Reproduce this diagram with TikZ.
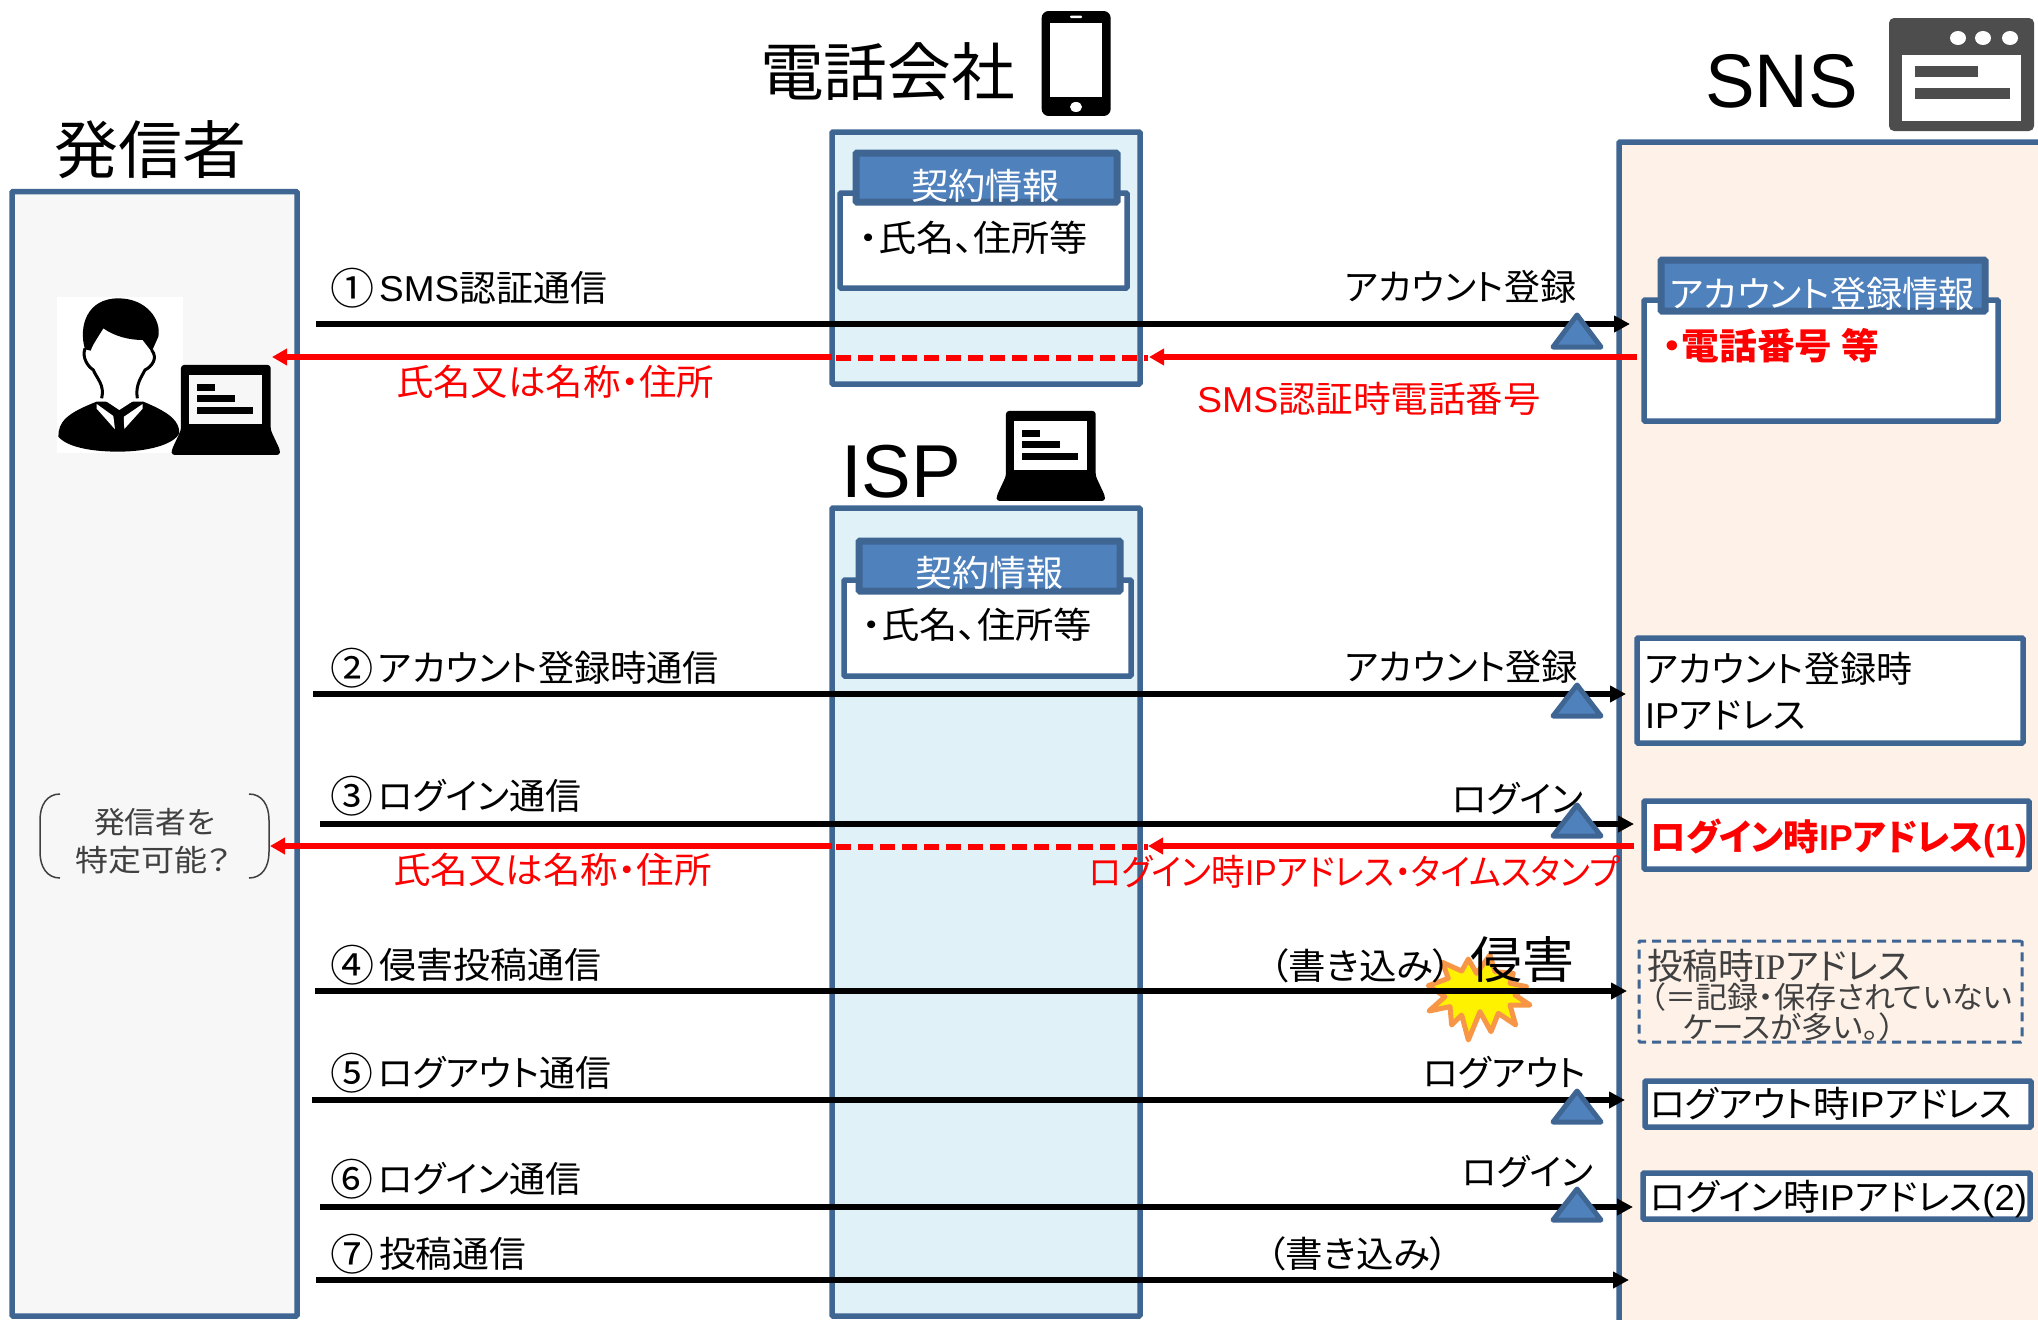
\documentclass[tikz,border=0pt]{standalone}
\usepackage{fontspec}
\usepackage{graphicx}
\usetikzlibrary{arrows.meta}
\setmainfont[RawFeature=+palt]{Noto Sans CJK JP}
\newfontfamily\ls{Liberation Sans}
\newfontfamily\lsb{Liberation Serif}
\definecolor{lanestroke}{HTML}{3F6593}
\definecolor{hdrfill}{HTML}{4F81BD}
\definecolor{lanegray}{HTML}{F7F7F7}
\definecolor{laneblue}{HTML}{E1F1F8}
\definecolor{lanepeach}{HTML}{FDF1E8}
\definecolor{burstline}{HTML}{F79646}
\definecolor{softtext}{HTML}{404040}
\definecolor{iconfill}{HTML}{4D4D4D}
\tikzset{
  panel/.style={rectangle,draw=lanestroke,line width=5.5pt,inner sep=0pt,outer sep=0pt,rounded corners=1pt},
  hdr/.style={panel,fill=hdrfill,line width=7pt},
  whitebox/.style={panel,fill=white},
  dashbox/.style={panel,line width=3pt,dash pattern=on 9pt off 6pt},
  msg/.style={line width=5.5pt,draw=black,-{Triangle[length=16pt,width=16pt]}},
  reply/.style={line width=5.5pt,draw=red,-{Triangle[length=15pt,width=16pt]}},
  replydash/.style={line width=5.5pt,draw=red,dash pattern=on 15pt off 7pt},
  mark tri/.style={fill=hdrfill,draw=lanestroke,line width=5pt,line join=round},
  txt/.style={inner sep=0pt,outer sep=0pt,anchor=base west}
}
\newsavebox\tb
\newcommand{\bx}[6]{%
  \pgfmathsetmacro\bcx{(#3+#5)/2}\pgfmathsetmacro\bcy{(#4+#6)/2}%
  \pgfmathsetmacro\bw{#5-#3}\pgfmathsetmacro\bh{#6-#4}%
  \node[#1,minimum width=\bw pt,minimum height=\bh pt] (#2) at (\bcx,\bcy) {};}
\newcommand{\lbl}[7]{%
  \pgfmathsetmacro\by{#4+0.41*#5}%
  \node[txt] (#1) at (#2,\by) {%
    \sbox\tb{\fontsize{#5}{#5}\selectfont\color{#6}#7}%
    \pgfmathsetmacro\xs{(#3-#2)/\the\wd\tb}%
    \scalebox{\xs}[1]{\usebox\tb}};}
\newcommand{\circd}[1]{\raisebox{-2.5pt}{\fontsize{43}{43}\selectfont #1}\hspace{5pt}}
\newcommand{\arr}[5]{%
  \coordinate (#2-a) at (#3,#5); \coordinate (#2-b) at (#4,#5);
  \draw[#1] (#2-a) -- (#2-b);}
\newcommand{\tri}[2]{\draw[mark tri] (1577,#1) -- (1601,#2) -- (1553,#2) -- cycle;}
\begin{document}
\begin{tikzpicture}[x=1pt,y=-1pt]
\useasboundingbox (0,0) rectangle (2038,1320);
\clip (0,0) rectangle (2038,1320);
% lanes
\bx{panel,fill=lanegray}{senderlane}{12}{191.5}{297}{1316}
\bx{panel,fill=laneblue}{phonelane}{832}{132}{1140}{384}
\bx{panel,fill=laneblue}{isplane}{832}{508}{1140}{1316}
\bx{panel,fill=lanepeach}{snslane}{1619}{142}{2060}{1360}
% titles
\lbl{t1}{54}{246}{148}{63}{black}{発信者}
\lbl{t2}{760}{1015}{70}{63}{black}{電話会社}
\lbl{t3}{841}{961}{467}{75}{black}{\ls ISP}
\lbl{t4}{1705}{1858}{76}{76}{black}{\ls SNS}
% phone icon
\begin{scope}[shift={(990,0)},x=0.3333pt,y=-0.3333pt]
  \fill[black,rounded corners=7pt] (155,33) rectangle (362,348);
  \fill[white] (180,70) rectangle (336,290);
  \fill[white,rounded corners=1pt] (240,47) rectangle (276,54);
  \fill[white] (258,321) ellipse [x radius=18,y radius=15];
\end{scope}
% browser icon
\fill[iconfill,rounded corners=5pt] (1889,18) rectangle (2034,131);
\fill[white] (1902,55) rectangle (2021,121);
\fill[iconfill] (1915,66) rectangle (1978,77);
\fill[iconfill] (1915,88) rectangle (2010,99);
\foreach \dx in {1958,1983,2010} \fill[white] (\dx,38) ellipse [x radius=8,y radius=7];
% person
\begin{scope}[shift={(50,290)},x=0.3333pt,y=-0.3333pt]
  \fill[white] (20,20) rectangle (398,488);
  \fill[black] (25,440) .. controls (25,395) and (50,370) .. (140,335) -- (280,335) .. controls (365,370) and (388,395) .. (388,430) .. controls (370,465) and (290,485) .. (205,485) .. controls (120,485) and (50,470) .. (25,440) -- cycle;
  \fill[white] (140,342) -- (190,378) -- (195,418) -- (140,356) -- cycle;
  \fill[white] (278,342) -- (222,380) -- (222,418) -- (278,356) -- cycle;
  \fill[white] (105,175) .. controls (95,205) and (115,230) .. (130,240) .. controls (140,265) and (165,285) .. (155,325) -- (208,360) -- (262,325) .. controls (255,285) and (275,260) .. (285,240) .. controls (305,230) and (325,205) .. (305,180) -- cycle;
  \draw[black,line width=3pt] (105,175) .. controls (95,205) and (115,230) .. (130,240) .. controls (140,265) and (165,285) .. (155,325);
  \draw[black,line width=3pt] (262,325) .. controls (255,285) and (275,260) .. (285,240) .. controls (305,230) and (325,205) .. (305,180);
  \fill[black] (105,178) .. controls (85,110) and (110,25) .. (205,25) .. controls (290,25) and (335,90) .. (325,140) -- (305,185) -- (278,150) .. controls (240,150) and (195,140) .. (160,115) .. controls (145,140) and (130,160) .. (122,182) -- cycle;
  \fill[black] (196,362) -- (222,362) -- (218,385) -- (224,420) -- (208,432) -- (194,420) -- (200,385) -- cycle;
\end{scope}
% laptops
\begin{scope}[shift={(50,290)},x=0.3333pt,y=-0.3333pt]
  \fill[black,rounded corners=3pt] (393,225) -- (662,225) -- (662,420) -- (690,480) -- (690,495) -- (365,495) -- (365,480) -- (393,420) -- cycle;
  \fill[lanegray] (418,255) rectangle (637,403);
  \fill[black] (442,282) rectangle (496,302);
  \fill[black] (442,316) rectangle (556,336);
  \fill[black] (442,351) rectangle (610,371);
\end{scope}
\begin{scope}[shift={(875,336)},x=0.3333pt,y=-0.3333pt]
  \fill[black,rounded corners=3pt] (393,225) -- (662,225) -- (662,420) -- (690,480) -- (690,495) -- (365,495) -- (365,480) -- (393,420) -- cycle;
  \fill[white] (418,255) rectangle (637,403);
  \fill[black] (442,282) rectangle (496,302);
  \fill[black] (442,316) rectangle (556,336);
  \fill[black] (442,351) rectangle (610,371);
\end{scope}
% contract boxes
\bx{whitebox}{c1box}{840}{193}{1127}{288}
\bx{hdr}{c1hdr}{856}{153}{1117}{202}
\lbl{c1h}{911}{1060}{185}{36}{white}{契約情報}
\lbl{c1t}{859}{1088}{237}{36}{black}{・氏名、住所等}
\bx{whitebox}{c2box}{844}{580}{1131}{676}
\bx{hdr}{c2hdr}{859}{541}{1120}{591}
\lbl{c2h}{915}{1063}{572}{36}{white}{契約情報}
\lbl{c2t}{862}{1092}{624}{36}{black}{・氏名、住所等}
% SNS boxes
\bx{whitebox}{s1box}{1644}{300}{1998}{421}
\bx{hdr}{s1hdr}{1661}{260}{1985}{311}
\lbl{s1h}{1670}{1975}{293}{36}{white}{アカウント登録情報}
\lbl{s1t}{1663}{1879}{345}{36}{red}{\bfseries ・電話番号 等}
\bx{whitebox}{s2}{1637}{638}{2023}{743}
\lbl{s2a}{1645}{1912}{668}{36}{black}{アカウント登録時}
\lbl{s2b}{1645}{1806}{714}{36}{black}{{\ls IP}アドレス}
\bx{whitebox}{s3}{1644}{801}{2029}{869}
\lbl{s3t}{1650}{2027}{836}{36}{red}{\bfseries ログイン時{\ls\bfseries IP}アドレス{\ls\bfseries (1)}}
\bx{dashbox}{s4}{1639}{941}{2022}{1042}
\lbl{s4a}{1647}{1910}{965}{36}{softtext}{投稿時{\lsb IP}アドレス}
\lbl{s4b}{1650}{2012}{996}{30}{softtext}{（＝記録・保存されていない}
\lbl{s4c}{1683}{1895}{1026}{30}{softtext}{ケースが多い。）}
\bx{whitebox}{s5}{1645}{1081}{2031}{1127}
\lbl{s5t}{1650}{2012}{1103}{36}{black}{ログアウト時{\ls IP}アドレス}
\bx{whitebox}{s6}{1643}{1173}{2030}{1219}
\lbl{s6t}{1650}{2027}{1196}{36}{black}{ログイン時{\ls IP}アドレス{\ls (2)}}
% sender note
\draw[softtext,line width=1.5pt] (60,794) .. controls (47,794) and (40,805) .. (40,820) -- (40,852) .. controls (40,867) and (47,878) .. (60,878);
\draw[softtext,line width=1.5pt] (249,794) .. controls (262,794) and (269,805) .. (269,820) -- (269,852) .. controls (269,867) and (262,878) .. (249,878);
\lbl{n1}{94}{215}{821}{30}{softtext}{発信者を}
\lbl{n2}{75}{231}{859}{30}{softtext}{特定可能？}
% burst
\begin{scope}[shift={(1415,945)},x=0.3333pt,y=-0.3333pt]
  \draw[fill=yellow,draw=burstline,line width=5pt,line join=round] (40,122) -- (100,100) -- (82,52) -- (140,78) -- (160,42) -- (185,85) -- (225,30) -- (240,80) -- (295,85) -- (285,115) -- (335,125) -- (300,150) -- (345,180) -- (285,180) -- (302,240) -- (250,205) -- (228,260) -- (195,200) -- (160,285) -- (140,210) -- (110,240) -- (105,185) -- (42,198) -- (90,155) -- cycle;
\end{scope}
% left labels
\lbl{l1}{330}{607}{287}{36}{black}{\circd{①}{\ls SMS}認証通信}
\lbl{l2}{330}{719}{667}{36}{black}{\circd{②}アカウント登録時通信}
\lbl{l3}{330}{581}{795}{36}{black}{\circd{③}ログイン通信}
\lbl{l4}{330}{601}{964}{36}{black}{\circd{④}侵害投稿通信}
\lbl{l5}{330}{611}{1072}{36}{black}{\circd{⑤}ログアウト通信}
\lbl{l6}{330}{581}{1178}{36}{black}{\circd{⑥}ログイン通信}
\lbl{l7}{330}{526}{1253}{36}{black}{\circd{⑦}投稿通信}
% right labels
\lbl{r1}{1345}{1576}{286}{36}{black}{アカウント登録}
\lbl{r2}{1345}{1578}{666}{36}{black}{アカウント登録}
\lbl{r3}{1452}{1583}{798}{36}{black}{ログイン}
\lbl{r4}{1270}{1452}{965}{36}{black}{（書き込み）}
\lbl{r5}{1423}{1586}{1072}{36}{black}{ログアウト}
\lbl{r6}{1462}{1593}{1171}{36}{black}{ログイン}
\lbl{r7}{1267}{1449}{1253}{36}{black}{（書き込み）}
\lbl{b1}{396}{714}{381}{36}{red}{氏名又は名称・住所}
\lbl{b2}{1197}{1541}{398}{36}{red}{{\ls SMS}認証時電話番号}
\lbl{b3}{393}{712}{869}{36}{red}{氏名又は名称・住所}
\lbl{b4}{1089}{1620}{871}{36}{red}{ログイン時{\ls IP}アドレス・タイムスタンプ}
% arrows
\arr{msg}{m1}{316}{1630}{324}
\arr{msg}{m2}{313}{1626}{694}
\arr{msg}{m3}{320}{1634}{824}
\arr{msg}{m4}{315}{1627}{991}
\arr{msg}{m5}{312}{1625}{1100}
\arr{msg}{m6}{320}{1633}{1207}
\arr{msg}{m7}{316}{1629}{1280}
\arr{reply}{p1}{832}{272}{357}
\arr{replydash}{p2}{836}{1148}{358}
\arr{reply}{p3}{1637}{1149}{357}
\arr{reply}{q1}{832}{270}{846}
\arr{replydash}{q2}{836}{1148}{847}
\arr{reply}{q3}{1634}{1148}{846}
% triangles
\tri{315}{347}
\tri{685}{716}
\tri{805}{836}
\tri{1091}{1122}
\tri{1189}{1220}
% infringement label on top
\lbl{h1}{1470}{1574}{958}{50}{black}{侵害}
\end{tikzpicture}
\end{document}
